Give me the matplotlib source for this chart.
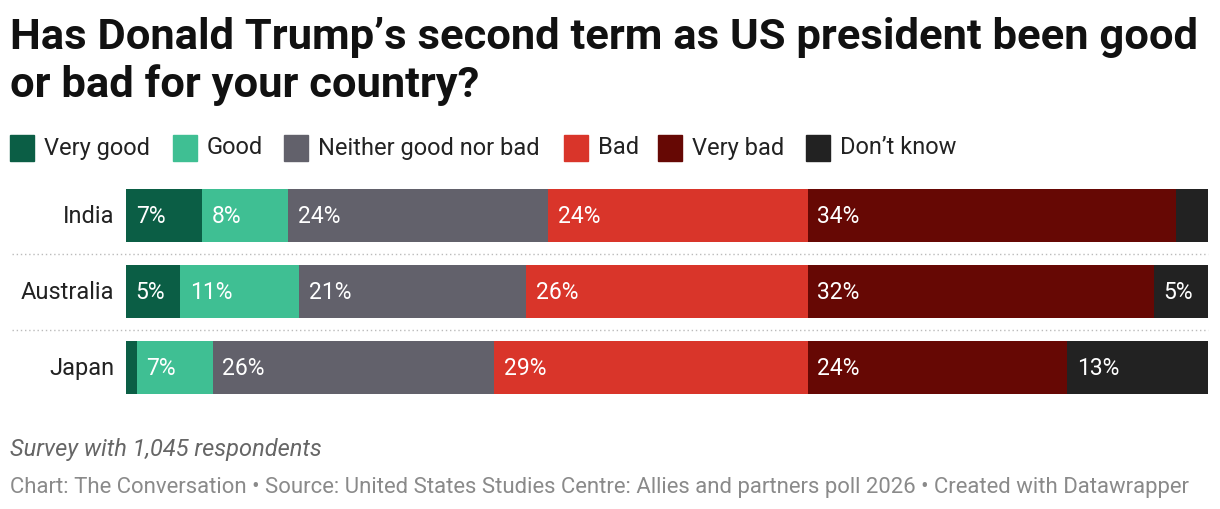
import matplotlib
matplotlib.use("Agg")
import matplotlib.pyplot as plt

countries = ["India", "Australia", "Japan"]
categories = ["Very good", "Good", "Neither good nor bad", "Bad", "Very bad", "Don’t know"]
values = {
    "India":     [7, 8, 24, 24, 34, 3],
    "Australia": [5, 11, 21, 26, 32, 5],
    "Japan":     [1, 7, 26, 29, 24, 13],
}
labels_shown = {
    "India":     ["7%", "8%", "24%", "24%", "34%", ""],
    "Australia": ["5%", "11%", "21%", "26%", "32%", "5%"],
    "Japan":     ["", "7%", "26%", "29%", "24%", "13%"],
}
colors = ["#0b5e45", "#3fbf93", "#62616b", "#d9352a", "#660804", "#222222"]

plt.rcParams['font.family'] = ['Roboto', 'DejaVu Sans']
W, H = 1220, 510
fig = plt.figure(figsize=(W/100, H/100), dpi=100)

fig.text(10/W, 1-17/H, "Has Donald Trump’s second term as US president been good\nor bad for your country?",
         fontsize=31.3, fontweight='bold', va='top', ha='left', linespacing=1.2, color='#111111')

lx = [10, 173, 284, 564, 658, 806]
for c, lab, xx in zip(colors, categories, lx):
    fig.patches.append(plt.Rectangle((xx/W, 1-162/H), 24/W, 26/H, transform=fig.transFigure, color=c))
    fig.text((xx+34)/W, 1-148/H, lab, fontsize=17, va='center', ha='left', color='#222222')

unit = 76
ax = fig.add_axes([126/W, 1-(216.5+2*unit+unit/2)/H, 1082/W, 3*unit/H])
ax.set_xlim(0, 100)
ax.set_ylim(2.5, -0.5)
for i, ctry in enumerate(countries):
    left = 0
    for v, c, lab in zip(values[ctry], colors, labels_shown[ctry]):
        ax.barh(i, v, left=left, height=0.70, color=c, edgecolor='none')
        if lab:
            ax.text(left + 0.9, i, lab, color='white', fontsize=16.5, va='center', ha='left')
        left += v
    ax.text(-1.1, i, ctry, fontsize=17, va='center', ha='right', color='#222222')
for yy in (0.5, 1.5):
    ax.plot([-10.5, 100], [yy, yy], ls=(0, (1, 2)), color='#bbbbbb', lw=1, clip_on=False)
ax.axis('off')

fig.text(10/W, 1-450/H, "Survey with 1,045 respondents", fontsize=17, style='italic', color='#666666', va='center')
fig.text(10/W, 1-487/H, "Chart: The Conversation • Source: United States Studies Centre: Allies and partners poll 2026 • Created with Datawrapper",
         fontsize=15.9, color='#8a8a8a', va='center')
fig.savefig("out.png", dpi=100)
